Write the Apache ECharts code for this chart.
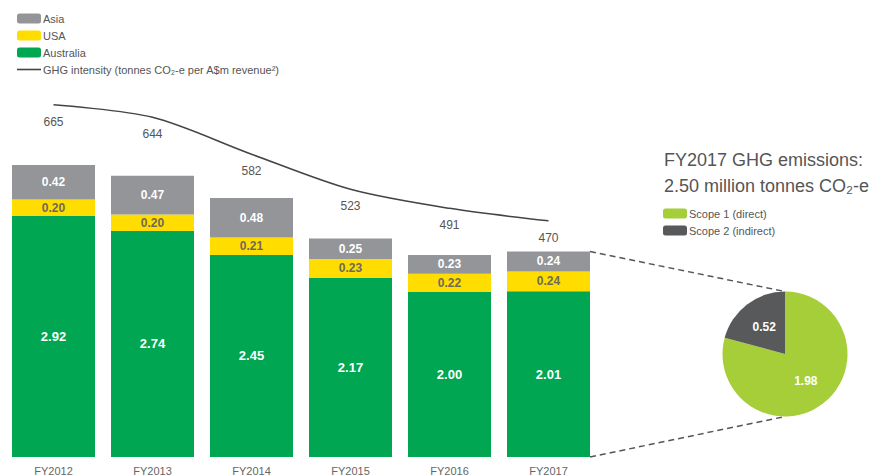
<!DOCTYPE html>
<html>
<head>
<meta charset="utf-8">
<script src="https://cdn.jsdelivr.net/npm/echarts@6/dist/echarts.min.js"></script>
<style>
    html, body {margin: 0; padding: 0; background: #fff;}
    #chart {width: 895px; height: 476px;}
</style>
</head>
<body>
<div id="chart"></div>
<script>
var categories = ['FY2012', 'FY2013', 'FY2014', 'FY2015', 'FY2016', 'FY2017'];
var australia = [2.92, 2.74, 2.45, 2.17, 2.00, 2.01];
var usa = [0.20, 0.20, 0.21, 0.23, 0.22, 0.24];
var asia = [0.42, 0.47, 0.48, 0.25, 0.23, 0.24];
var intensity = [665, 644, 582, 523, 491, 470];
var scopeNames = ['Scope 1 (direct)', 'Scope 2 (indirect)'];
var scopeValues = [1.98, 0.52];

var font = '"Liberation Sans", Arial, sans-serif';
var barWidth = 83;
var pieCenter = [785, 354];
var pieRadius = 62.5;
var lineName = 'GHG intensity (tonnes CO\u2082-e per A$m revenue\u00b2)';

var chart = echarts.init(document.getElementById('chart'), null, {renderer: 'svg'});

function fmt(p) {
    return p.value.toFixed(2);
}

var scopeTotal = 0;
for (var i = 0; i < scopeValues.length; i++) {
    scopeTotal += scopeValues[i];
}

var option = {
    animation: false,
    textStyle: {fontFamily: font},
    title: {
        text: 'FY2017 GHG emissions:\n' + scopeTotal.toFixed(2) + ' million tonnes CO\u2082-e',
        left: 659,
        top: 142,
        textStyle: {fontSize: 18, fontWeight: 'normal', color: '#555', lineHeight: 26, fontFamily: font}
    },
    legend: [{
        data: ['Asia', 'USA', 'Australia', {name: lineName, icon: 'path://M0,0 H24 V1.6 H0 Z'}],
        orient: 'vertical',
        left: 12,
        top: 8,
        itemWidth: 24,
        itemHeight: 10,
        itemGap: 6,
        selectedMode: false,
        textStyle: {fontSize: 11, color: '#555', fontFamily: font, padding: [0, 0, 0, -3]}
    }, {
        data: scopeNames,
        orient: 'vertical',
        left: 658,
        top: 203,
        itemWidth: 24,
        itemHeight: 10,
        itemGap: 6,
        selectedMode: false,
        textStyle: {fontSize: 11, color: '#555', fontFamily: font, padding: [0, 0, 0, -3]}
    }],
    grid: [
        {left: 4, width: 594, top: 127, bottom: 19},
        {left: 4, width: 594, top: 84, height: 178.5}
    ],
    xAxis: [{
        type: 'category',
        gridIndex: 0,
        data: categories,
        axisLine: {show: false},
        axisTick: {show: false},
        axisLabel: {fontSize: 11, color: '#666', margin: 8, fontFamily: font}
    }, {
        type: 'category',
        gridIndex: 1,
        data: categories,
        show: false
    }],
    yAxis: [{
        type: 'value',
        gridIndex: 0,
        min: 0,
        max: 4,
        show: false
    }, {
        type: 'value',
        gridIndex: 1,
        min: 400,
        max: 700,
        show: false
    }],
    series: [{
        name: 'Australia',
        type: 'bar',
        stack: 'ghg',
        barWidth: barWidth,
        data: australia,
        itemStyle: {color: '#00a651'},
        label: {show: true, position: 'inside', formatter: fmt, color: '#fff', fontSize: 13, fontWeight: 'bold', fontFamily: font}
    }, {
        name: 'USA',
        type: 'bar',
        stack: 'ghg',
        barWidth: barWidth,
        data: usa,
        itemStyle: {color: '#ffdd00'},
        label: {show: true, position: 'inside', formatter: fmt, color: '#6e6a5a', fontSize: 12, fontWeight: 'bold', fontFamily: font}
    }, {
        name: 'Asia',
        type: 'bar',
        stack: 'ghg',
        barWidth: barWidth,
        data: asia,
        itemStyle: {color: '#939598'},
        label: {show: true, position: 'inside', formatter: fmt, color: '#fff', fontSize: 12, fontWeight: 'bold', fontFamily: font}
    }, {
        name: lineName,
        type: 'line',
        xAxisIndex: 1,
        yAxisIndex: 1,
        data: intensity,
        smooth: 0.3,
        symbol: 'circle',
        symbolSize: 0.01,
        showSymbol: true,
        lineStyle: {color: '#444', width: 1.5},
        itemStyle: {color: '#444'},
        label: {show: true, position: 'bottom', distance: 11, color: '#555', fontSize: 12, fontFamily: font}
    }, {
        name: 'scope',
        type: 'pie',
        center: pieCenter,
        radius: pieRadius,
        startAngle: 90,
        data: [
            {name: scopeNames[0], value: scopeValues[0], itemStyle: {color: '#a6ce39'}},
            {name: scopeNames[1], value: scopeValues[1], itemStyle: {color: '#58595b'}}
        ],
        label: {show: true, position: 'inside', formatter: fmt, color: '#fff', fontSize: 12, fontWeight: 'bold', fontFamily: font},
        labelLine: {show: false},
        emphasis: {disabled: true}
    }]
};

chart.setOption(option);

// dashed lines from the FY2017 bar to the pie
var last = categories.length - 1;
var lastTotal = australia[last] + usa[last] + asia[last];
var topPt = chart.convertToPixel({xAxisIndex: 0, yAxisIndex: 0}, [categories[last], lastTotal]);
var botPt = chart.convertToPixel({xAxisIndex: 0, yAxisIndex: 0}, [categories[last], 0]);
var edgeX = topPt[0] + barWidth / 2;
var dash = {stroke: '#555', lineWidth: 1.5, lineDash: [6, 4]};

chart.setOption({
    graphic: [{
        type: 'line',
        shape: {x1: edgeX, y1: topPt[1], x2: pieCenter[0], y2: pieCenter[1] - pieRadius},
        style: dash
    }, {
        type: 'line',
        shape: {x1: edgeX, y1: botPt[1], x2: pieCenter[0], y2: pieCenter[1] + pieRadius},
        style: dash
    }]
});
</script>
</body>
</html>
